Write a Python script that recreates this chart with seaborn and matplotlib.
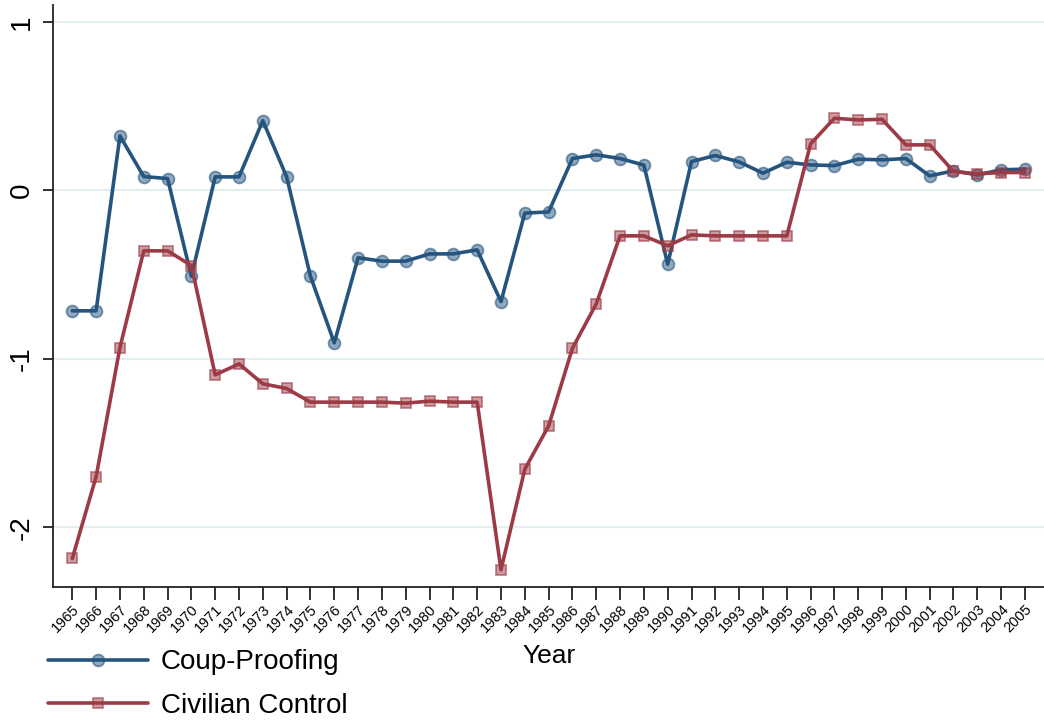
import numpy as np
import pandas as pd
import seaborn as sns
import matplotlib
matplotlib.use("Agg")
import matplotlib.pyplot as plt
from matplotlib.colors import to_rgba

years = list(range(1965, 2006))
coup_proofing = [-0.715, -0.715, 0.323, 0.082, 0.070, -0.510, 0.080, 0.080, 0.414, 0.080,
                 -0.510, -0.905, -0.400, -0.420, -0.420, -0.377, -0.377, -0.353, -0.660, -0.135,
                 -0.128, 0.189, 0.211, 0.189, 0.150, -0.438, 0.171, 0.207, 0.169, 0.102,
                 0.167, 0.151, 0.147, 0.185, 0.181, 0.189, 0.086, 0.116, 0.092, 0.122, 0.126]
civilian_control = [-2.185, -1.700, -0.933, -0.359, -0.359, -0.446, -1.095, -1.030, -1.148, -1.176,
                    -1.257, -1.257, -1.257, -1.257, -1.263, -1.251, -1.257, -1.257, -2.252, -1.655,
                    -1.398, -0.937, -0.674, -0.270, -0.270, -0.329, -0.264, -0.270, -0.270, -0.270,
                    -0.270, 0.276, 0.428, 0.418, 0.422, 0.270, 0.270, 0.112, 0.098, 0.106, 0.106]
series_names = ["Coup-Proofing", "Civilian Control"]
y_ticks = [-2, -1, 0, 1]

sns.set_theme(style="white")
plt.rcParams['font.family'] = ['Liberation Sans', 'DejaVu Sans']
plt.rcParams['text.color'] = 'black'
plt.rcParams['xtick.color'] = 'black'
plt.rcParams['ytick.color'] = 'black'
plt.rcParams['axes.labelcolor'] = 'black'

fig = plt.figure(figsize=(10.44, 7.2), dpi=100)
ax = fig.add_axes([0.051, 0.185, 0.949, 0.808])

colors = ["#25557f", "#9c3b45"]
markers = ["o", "s"]
data = [coup_proofing, civilian_control]
for name, vals, c, m in zip(series_names, data, colors, markers):
    df = pd.DataFrame({"Year": years, "value": vals})
    sns.lineplot(data=df, x="Year", y="value", ax=ax, color=c, lw=2.6,
                 marker=m, markersize=8.5 if m == "o" else 7.8,
                 markerfacecolor=to_rgba(c, 0.5), markeredgecolor=to_rgba(c, 0.6),
                 markeredgewidth=1.3, label=name, legend=False)

ax.set_xlim(1964.2, 2005.8)
ax.set_ylim(-2.353, 1.10)
ax.set_xticks(years)
ax.set_xticklabels([str(y) for y in years], rotation=45, ha="right", rotation_mode="anchor",
                   fontsize=10.5)
ax.set_yticks(y_ticks)
ax.set_yticklabels([str(t) for t in y_ticks], rotation=90, va="center", fontsize=20)
ax.tick_params(axis="x", direction="out", length=9, width=1.3, color="#222222", bottom=True, pad=2)
ax.tick_params(axis="y", direction="out", length=7, width=1.3, color="#222222", left=True, pad=6)
ax.grid(axis="y", color="#e4eef0", lw=1.5)
ax.set_axisbelow(True)
for s in ["top", "right"]:
    ax.spines[s].set_visible(False)
for s in ["left", "bottom"]:
    ax.spines[s].set_color("#222222")
    ax.spines[s].set_linewidth(1.3)
ax.set_xlabel("Year", fontsize=19, labelpad=6)
ax.set_ylabel("")

handles, labels = ax.get_legend_handles_labels()
leg = fig.legend(handles, labels, loc="upper left", bbox_to_anchor=(0.046, 0.098),
                 frameon=False, fontsize=20, handlelength=3.6, handletextpad=0.45,
                 labelspacing=0.62, borderaxespad=0, borderpad=0)

fig.savefig("out.png", dpi=100)
